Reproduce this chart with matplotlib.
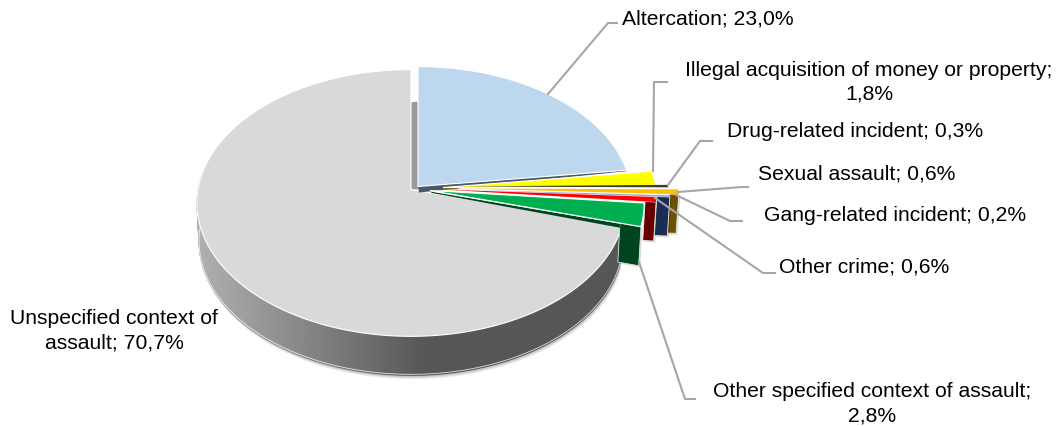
import numpy as np
import matplotlib
matplotlib.use("Agg")
import matplotlib.pyplot as plt
from matplotlib.patches import Polygon

plt.rcParams['font.family'] = ['Liberation Sans', 'DejaVu Sans']

# ---- data (clockwise from 12 o'clock) ----
categories = ["Altercation", "Illegal acquisition of money or property",
              "Drug-related incident", "Sexual assault", "Gang-related incident",
              "Other crime", "Other specified context of assault",
              "Unspecified context of assault"]
values = [23.0, 1.8, 0.3, 0.6, 0.2, 0.6, 2.8, 70.7]

# ---- style ----
top_colors = ["#BDD7EE", "#FFFF00", "#3A3A3A", "#FFC000", "#8FAADC", "#FF0000", "#00B050", "#D9D9D9"]
wall_colors = ["#4A5868", None, None, "#6B5200", "#1A2E55", "#660000", "#00431F", None]
tip_wall_px = [0, 0, 0, 9, 13, 11, 21, 0]
explode_px = [(7, -3), (32, -2), (44, -3), (54, -1), (45, 0), (31, 0), (19, 1), (0, 0)]
label_layout = [  # text lines, anchor, x, y of the first line
    (["{}; {}"], "left", 622, 19),
    (["{};", "{}"], "center", 869, 70),
    (["{}; {}"], "left", 727, 132),
    (["{}; {}"], "left", 758, 174),
    (["{}; {}"], "left", 764, 216),
    (["{}; {}"], "left", 779, 267),
    (["{};", "{}"], "center", 872, 392),
    (None, "center", 114, 319),
]
leaders = [
    [(548, 95), (608, 24), (617, 24)],
    [(653, 172), (654, 83), (667, 83)],
    [(668, 186), (700, 142), (712, 142)],
    [(678, 193), (742, 188), (748, 188)],
    [(676, 196), (730, 222), (742, 222)],
    [(655, 199), (763, 274), (775, 274)],
    [(639, 263), (685, 400), (695, 400)],
]
FONT = 15.25
LEADER = "#A6A6A6"

CX, CY, R, A, P = 411, 190.5, 213, 132, 0.101
DROP, SHRINK = 39, 0.99


def project(theta_deg, ox=0, oy=0):
    """Clockwise-from-top angle to picture position on the tilted pie."""
    t = np.radians(theta_deg)
    u, v = np.sin(t), np.cos(t)
    d = 1 + P * v
    return np.column_stack([CX + ox + R * u / d, CY + oy - A * v / d])


def extrude(pts):
    pts = np.atleast_2d(pts)
    return np.column_stack([CX + (pts[:, 0] - CX) * SHRINK, pts[:, 1] + DROP])


fig = plt.figure(figsize=(10.59, 4.27), dpi=100, facecolor="white")
ax = fig.add_axes([0, 0, 1, 1])
ax.set_xlim(0, 1059)
ax.set_ylim(427, 0)
ax.axis("off")

edges = np.concatenate([[0], np.cumsum(values)]) * 360 / sum(values)
slices = list(range(len(values)))

# ---- unspecified slice: soft shadow, rim with gradient, top ----
g0, g1 = edges[-2], edges[-1]
rim_angles = np.linspace(g0, 276, 170)
rim_top = project(rim_angles)
rim_bot = extrude(rim_top)
shadow = np.vstack([rim_top, rim_bot[::-1]])
for off, alpha in [(4, 0.05), (3, 0.07), (2, 0.10), (1, 0.12)]:
    ax.add_patch(Polygon(shadow + [off * 0.4, off], closed=True, fc="black", ec="none", alpha=alpha, zorder=1))
for i in range(len(rim_angles) - 1):
    quad = [rim_top[i], rim_top[i + 1], rim_bot[i + 1], rim_bot[i]]
    mx = np.mean([q[0] for q in quad])
    s = np.clip((mx - 198) / (425 - 198), 0, 1)
    shade = (176 - s * (176 - 86)) / 255
    ax.add_patch(Polygon(quad, closed=True, fc=(shade,) * 3, ec=(shade,) * 3, lw=0.6, zorder=2))
ax.plot(rim_bot[:, 0], rim_bot[:, 1] - 1, color="white", lw=0.6, alpha=0.8, zorder=3)
# inner face visible in the gap at 12 o'clock
ox, oy = explode_px[0]
ax.add_patch(Polygon([(CX, CY - 87), (CX + ox, CY - 88), (CX + ox, CY), (CX, CY)],
                     closed=True, fc="#9A9A9A", ec="none", zorder=2))
gray_arc = project(np.linspace(g0, g1, 240))
ax.add_patch(Polygon(np.vstack([[CX, CY], gray_arc]), closed=True, fc=top_colors[-1],
                     ec="white", lw=0.8, zorder=4))

# ---- exploded slices, back to front ----
z = 5
for i in slices[:-1]:
    ox, oy = explode_px[i]
    apex = np.array([CX + ox, CY + oy])
    arc = project(np.linspace(edges[i], edges[i + 1], max(3, int(values[i] * 3))), ox, oy)
    tip = arc[-1]
    if i == 0:  # thin strip of the dark inner face under the first slice
        ax.add_patch(Polygon([apex, tip, tip + [0, 1], apex + [1, 6]], closed=True,
                             fc=wall_colors[0], ec="none", zorder=z))
    if i == 1:  # small inner face showing near the apex
        near = apex + 0.07 * (tip - apex)
        ax.add_patch(Polygon([apex, near, near + [0, 2], apex + [0, 2]], closed=True,
                             fc="#7F7F00", ec="none", zorder=z))
    if tip_wall_px[i]:
        f = 1 - tip_wall_px[i] / (tip[0] - apex[0])
        start = apex + f * (tip - apex)
        quad = np.vstack([start, tip, extrude(tip), extrude(start)])
        ax.add_patch(Polygon(quad + [1.5, 1.5], closed=True, fc="black", ec="none", alpha=0.15, zorder=z))
        ax.add_patch(Polygon(quad, closed=True, fc=wall_colors[i], ec="#E8E8E8", lw=0.6, zorder=z + 1))
    if i == 6:  # dark strip along the lower cut of the nearest slice
        ax.add_patch(Polygon([apex + [0, 1], tip + [-21, -3], tip + [-21, 1], apex + [2, 2.5]], closed=True,
                             fc=wall_colors[6], ec="none", zorder=z + 1))
    poly = np.vstack([apex, arc])
    lw = 0.8 if values[i] >= 1 else 0.0
    ax.add_patch(Polygon(poly, closed=True, fc=top_colors[i],
                         ec="white" if lw else "none", lw=lw, zorder=z + 2))
    z += 3

# ---- leader lines and labels ----
for path in leaders:
    xs, ys = zip(*path)
    ax.plot(xs, ys, color=LEADER, lw=1.5, solid_joinstyle="miter", zorder=40)


def pct(v):
    return f"{v:.1f}%".replace(".", ",")


LINE = 24
for name, val, (lines, ha, x, y) in zip(categories, values, label_layout):
    if lines is None:
        texts = ["Unspecified context of", f"assault; {pct(val)}"]
    elif len(lines) == 1:
        texts = [lines[0].format(name, pct(val))]
    else:
        texts = [lines[0].format(name), lines[1].format(pct(val))]
    for k, t in enumerate(texts):
        ax.text(x, y + k * LINE, t, ha=ha, va="center", fontsize=FONT, color="black", zorder=50)

fig.savefig("out.png", dpi=100, facecolor="white")
